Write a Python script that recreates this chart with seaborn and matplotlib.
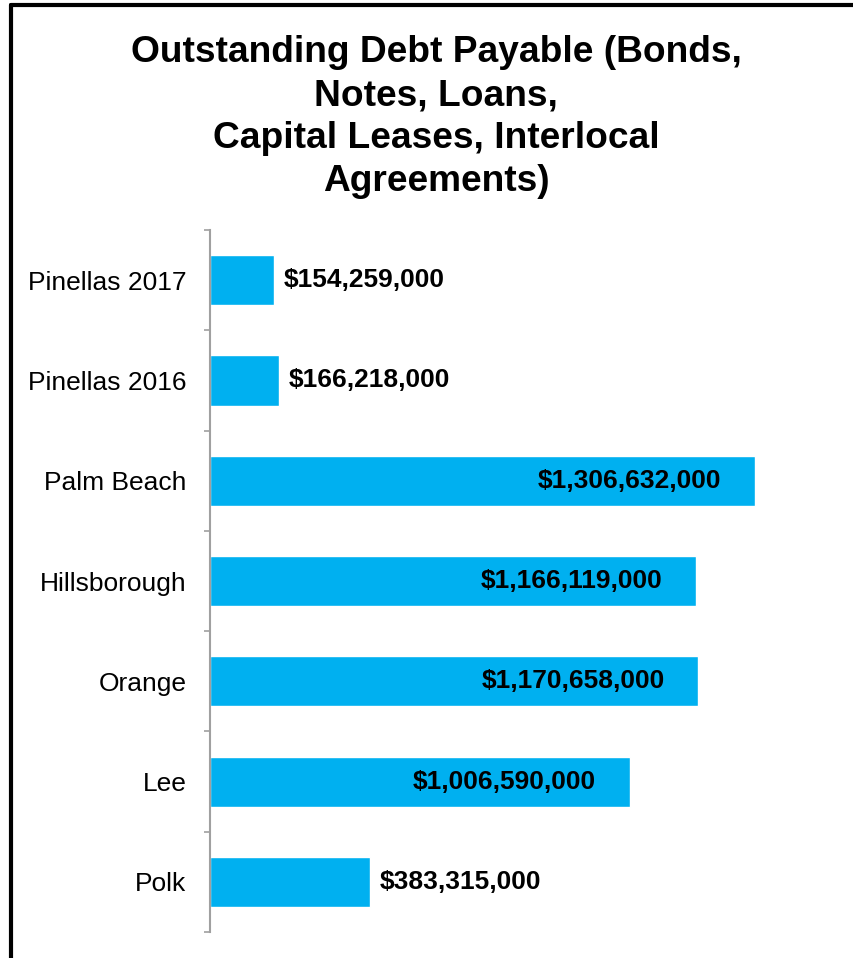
import numpy as np
import pandas as pd
import matplotlib
matplotlib.use("Agg")
import matplotlib.pyplot as plt
from matplotlib.lines import Line2D
import seaborn as sns

# data
counties = ["Pinellas 2017", "Pinellas 2016", "Palm Beach", "Hillsborough",
            "Orange", "Lee", "Polk"]
debt = [154259000, 166218000, 1306632000, 1166119000,
        1170658000, 1006590000, 383315000]

df = pd.DataFrame({"county": counties, "debt": debt})

sns.set_style("white")
plt.rcParams["font.family"] = ["Liberation Sans", "DejaVu Sans"]
plt.rcParams["text.color"] = "black"
plt.rcParams["ytick.color"] = "black"
plt.rcParams["ytick.labelcolor"] = "black"

fig = plt.figure(figsize=(8.54, 9.58), dpi=100)
ax = fig.add_axes([210 / 854, 26 / 958, 621 / 854, 702 / 958])

sns.barplot(data=df, x="debt", y="county", orient="h", color="#00B0F0",
            saturation=1, width=0.5, ax=ax)

ax.set_xlim(0, 1.49e9)
ax.set_ylim(len(counties) - 0.5, -0.5)
ax.set_xlabel("")
ax.set_ylabel("")
ax.set_xticks([])

# spines / ticks
for s in ["top", "right", "bottom"]:
    ax.spines[s].set_visible(False)
ax.spines["left"].set_color("#A0A0A0")
ax.spines["left"].set_linewidth(1.5)
ax.set_yticks(np.arange(-0.5, len(counties)), minor=True)
ax.tick_params(axis="y", which="minor", left=True, length=4.5, width=1.2,
               color="#A0A0A0", direction="out")
ax.tick_params(axis="y", which="major", left=False, length=0, pad=17,
               labelsize=19, labelcolor="black")

# value labels
for i, v in enumerate(debt):
    txt = "${:,}".format(v)
    if v > 1e9:
        ax.annotate(txt, (v, i), xytext=(-24, 0), textcoords="offset points",
                    ha="right", va="center", fontsize=19, fontweight="bold",
                    color="black")
    else:
        ax.annotate(txt, (v, i), xytext=(7, 0), textcoords="offset points",
                    ha="left", va="center", fontsize=19, fontweight="bold",
                    color="black")

fig.text(436 / 854, 1 - 117 / 958,
         "Outstanding Debt Payable (Bonds,\nNotes, Loans,\nCapital Leases, Interlocal\nAgreements)",
         ha="center", va="center", fontsize=26.7, fontweight="bold",
         linespacing=1.29, color="black")

# frame: left and top edges
fig.add_artist(Line2D([11 / 854, 11 / 854], [0, 1 - 5 / 958], color="black",
                      linewidth=3, transform=fig.transFigure))
fig.add_artist(Line2D([11 / 854, 1], [1 - 5 / 958, 1 - 5 / 958], color="black",
                      linewidth=3, transform=fig.transFigure))

fig.savefig("out.png", dpi=100)
